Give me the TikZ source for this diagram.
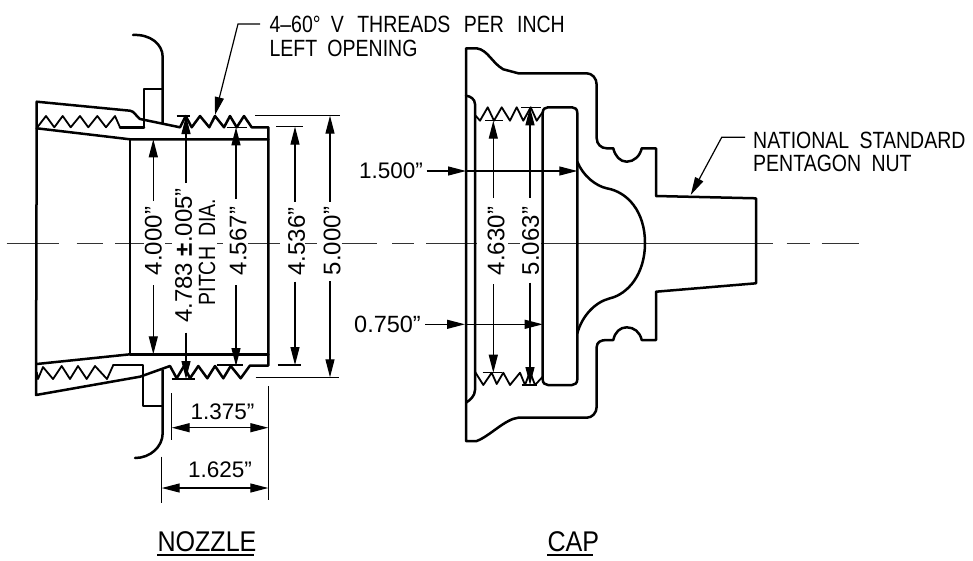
\documentclass[tikz,border=0pt]{standalone}
\usepackage{fontspec}
\setmainfont{Liberation Sans}
\newfontfamily\capsf[FakeStretch=0.83,WordSpace=1.9]{Liberation Sans}
\newfontfamily\titlef[FakeStretch=0.88,WordSpace=1.8]{Liberation Sans}
\usetikzlibrary{arrows.meta}
\tikzset{
  x=1pt,y=-1pt,
  heavy/.style={line width=2.5pt,line join=round,line cap=round},
  mid/.style={line width=1.8pt,line join=round},
  fine/.style={line width=1.2pt},
  dimarrow/.style={fine,-{Triangle[length=18pt,width=9pt]}},
  dimboth/.style={fine,{Triangle[length=18pt,width=9pt]}-{Triangle[length=18pt,width=9pt]}},
  ctr/.style={line width=1pt,black!80},
  dimtext/.style={font=\fontsize{24}{26}\selectfont,inner sep=0pt},
  hdim/.style={font=\fontsize{22.5}{26}\selectfont,inner sep=0pt},
  vdim/.style={dimtext,rotate=90,anchor=center},
  capslabel/.style={font=\capsf\fontsize{23.5}{25}\selectfont,inner sep=0pt,anchor=base west},
  title/.style={font=\titlef\fontsize{28.5}{30}\selectfont,inner sep=0pt,anchor=base west},
}
\begin{document}
\begin{tikzpicture}
\useasboundingbox (0,0) rectangle (973,560);
% centre line
\foreach \a/\b in {6.7/59,76.7/102.7,115/144,165/172,217/223,248/280,305/317,341.7/377.3,392.3/414.3,426/476.7,508/520,541/773.3,786.7/810,821.7/859.3}
  \draw[ctr] (\a,243) -- (\b,243);
% NOZZLE
\draw[heavy] (133,35) .. controls (150,34) and (162.7,44) .. (162.7,57) -- (162.7,123);
\draw[heavy] (144,127.3) -- (144,89) -- (162.7,89);
\draw[heavy] (36.7,128.3) -- (36.7,101.7) -- (130,110.7) .. controls (134,111) and (136,116) .. (140,119) -- (180,127.3)
  -- (185.7,116) -- (191.7,127.3) -- (200,116) -- (209.3,127.3) -- (215,116) -- (224,127.3) -- (230,116) -- (236.7,127.3) -- (244,116) -- (251.7,127.3) -- (268.3,127.3) -- (268.3,365.5)
  -- (250,365.5) -- (240.7,378.3) -- (230.7,366) -- (223.3,378.3) -- (215,366) -- (207.3,378.3) -- (198.3,366) -- (190,378.3) -- (184,366) -- (176.7,378.3) -- (170,366) -- (140,376.7) -- (36,395) -- (36.7,128.3);
\draw[heavy] (36.7,128.3) -- (130,139.3) -- (268.3,139.3);
\draw[heavy] (130,139.3) -- (130,354.3) -- (268.3,354.3);
\draw[heavy] (130,354.3) -- (36.7,364);
\draw[mid] (37.3,127.3) -- (46,116) -- (54.3,127.3) -- (62.7,116) -- (70.7,127.3) -- (80,116) -- (88.3,127.3) -- (97.3,116) -- (106,127.3) -- (115,116) -- (120,127.3);
\draw[heavy] (120,127.3) -- (144,127.3);
\draw[mid] (36.7,372) -- (38,379) -- (43,367) -- (53,379) -- (61.7,366) -- (70,379) -- (78,366) -- (86.7,379) -- (95,366) -- (107,379) -- (113.3,365);
\draw[heavy] (113.3,365) -- (143,365) -- (143,406) -- (162.7,406);
\draw[heavy] (162.7,370) -- (162.7,433) .. controls (162.7,447) and (150,458) .. (135,458);
% nozzle dimensions
\draw[fine] (176.7,116) -- (190,116);
\draw[fine] (171.7,379) -- (195,379);
\draw[fine] (226.7,127.3) -- (246.7,127.3);
\draw[fine] (216.7,365) -- (243,365);
\draw[fine] (276,126.7) -- (303.3,126.7);
\draw[fine] (277.7,365) -- (301,365);
\draw[fine] (255,115.7) -- (340,115.7);
\draw[fine] (255.7,377.3) -- (339,377.3);
\draw[dimarrow] (153.3,201) -- (153.3,139.3);
\draw[dimarrow] (153.3,285) -- (153.3,354.3);
\draw[dimarrow] (186,183) -- (186,116);
\draw[dimarrow] (186,332.7) -- (186,379);
\draw[dimarrow] (236,199) -- (236,127.3);
\draw[dimarrow] (236,285) -- (236,366);
\draw[dimarrow] (295,201.7) -- (295,126.7);
\draw[dimarrow] (295,281.7) -- (295,365);
\draw[dimarrow] (330,201.7) -- (330,115.7);
\draw[dimarrow] (330,281) -- (330,377.3);
\draw[fine] (171.7,393) -- (171.7,440);
\draw[fine] (268.3,386) -- (268.3,500);
\draw[fine] (161.7,456.7) -- (161.7,503);
\draw[dimboth] (171.7,427.7) -- (268.3,427.7);
\draw[dimboth] (161.7,488) -- (268.3,488);
\node[vdim] (d4000) at (153.3,241) {4.000”};
\node[vdim] (d4783) at (183.5,255.5) {4.783 {\bfseries ±}.005”};
\node[inner sep=0pt,rotate=90,anchor=center,font=\capsf\fontsize{23.5}{25}\selectfont] (dpitch) at (207,252) {PITCH DIA.};
\node[vdim] (d4567) at (238,241) {4.567”};
\node[vdim] (d4536) at (296.5,241.5) {4.536”};
\node[vdim] (d5000) at (332,241) {5.000”};
\node[hdim] (d1375) at (222.5,411.5) {1.375”};
\node[hdim] (d1625) at (220,470) {1.625”};
% CAP
\draw[heavy] (466,441) -- (466,48.3) -- (476.7,48.3) .. controls (488,50) and (492,63) .. (503.3,69.3) -- (518.3,73.3) -- (586.7,73.3)
  .. controls (592,73.3) and (596.7,78) .. (596.7,85) -- (596.7,138.3) .. controls (596.7,144) and (601,148.3) .. (606.7,148.3) -- (613.3,148.3)
  .. controls (615,156) and (620,161.7) .. (626.7,161.7) .. controls (634,161.7) and (640,156) .. (641.7,148.3) -- (656,148.3) -- (656,196) -- (756,198.3) -- (756,283.3) -- (656,291.7) -- (656,340) -- (641.7,340)
  .. controls (640,332) and (634,327.3) .. (626.7,327.3) .. controls (620,327.3) and (615,332) .. (613.3,340) -- (606.7,340)
  .. controls (601,340) and (596.7,342) .. (596.7,347) -- (596.7,406.7) .. controls (596.7,413) and (592,417.7) .. (586.7,417.7) -- (518.3,417.7) .. controls (505,419) and (490,436) .. (476.7,441) -- cycle;
\draw[heavy] (466,95.7) .. controls (470,96) and (475,99) .. (475,104) -- (475,390) .. controls (475,396) and (470,400) .. (466,402.7);
\draw[mid] (475,115) -- (480,120.7) -- (487.7,107.3) -- (494,120.7) -- (501.7,107.3) -- (510,120.7) -- (516.7,107.3) -- (523.3,120.7) -- (530.7,107.3) -- (536.7,120.7) -- (542.7,112);
\draw[mid] (475,371.7) -- (483.3,385) -- (491.7,372.7) -- (496.7,384) -- (503.3,372.7) -- (510,385) -- (520,372.7) -- (525,385) -- (530,371.7) -- (535,385) -- (542.7,376.7);
\draw[heavy] (542.7,113) .. controls (542.7,109) and (545,107.3) .. (548,107.3) -- (572,107.3) .. controls (575,107.3) and (577.3,109) .. (577.3,113) -- (577.3,379.5) .. controls (577.3,383) and (575,385) .. (572,385) -- (548,385) .. controls (545,385) and (542.7,383) .. (542.7,379.5) -- cycle;
\draw[heavy] (577.3,161.7) .. controls (583,176) and (596,186) .. (606.7,188.3) .. controls (628,192) and (645,212) .. (645,243) .. controls (645,274) and (628,294) .. (610,298.3) .. controls (595,302) and (582,316) .. (577.3,333.3);
% cap dimensions
\draw[fine] (485,120.7) -- (503.3,120.7);
\draw[fine] (482.7,372.7) -- (501.7,372.7);
\draw[fine] (521,107.3) -- (541,107.3);
\draw[fine] (521.7,385) -- (536.7,385);
\draw[dimarrow] (493.3,198) -- (493.3,120.7);
\draw[dimarrow] (493.3,284.3) -- (493.3,372.7);
\draw[dimarrow] (530,197.7) -- (530,107.3);
\draw[dimarrow] (530,282.7) -- (530,385);
\draw[dimarrow] (426.7,171) -- (466,171);
\draw[dimarrow] (466,171) -- (577.3,171);
\draw[dimarrow] (425,324.3) -- (465,324.3);
\draw[dimarrow] (465,324.3) -- (542.7,324.3);
\node[hdim] (d1500) at (391,170.5) {1.500”};
\node[hdim,font=\fontsize{23.5}{26}\selectfont] (d0750) at (387.5,324.7) {0.750”};
\node[vdim] (d4630) at (496,241) {4.630”};
\node[vdim] (d5063) at (530.7,241) {5.063”};
% leaders and labels
\node[capslabel] (thr1) at (269.3,32) {4–60° V\hspace*{3pt} THREADS\hspace*{3pt} PER\hspace*{3pt} INCH};
\node[capslabel] (thr2) at (269.3,56.7) {LEFT OPENING};
\node[capslabel] (nat1) at (753,148.3) {NATIONAL STANDARD};
\node[capslabel] (nat2) at (753,171.7) {PENTAGON NUT};
\coordinate (l1) at (260,24);
\coordinate (l2) at (238,24);
\coordinate (t1) at (215,115);
\coordinate (l3) at (745,137.3);
\coordinate (l4) at (721.7,137.3);
\coordinate (t2) at (690.7,195);
\draw[dimarrow] (l1) -- (l2) -- (t1);
\draw[dimarrow] (l3) -- (l4) -- (t2);
\node[title] (noz) at (157.3,551.7) {NOZZLE};
\node[title] (capn) at (547.3,551.7) {CAP};
\draw[line width=1.8pt] (157.3,555) -- (254.3,555);
\draw[line width=1.8pt] (547.3,555) -- (593.3,555);
\end{tikzpicture}
\end{document}
